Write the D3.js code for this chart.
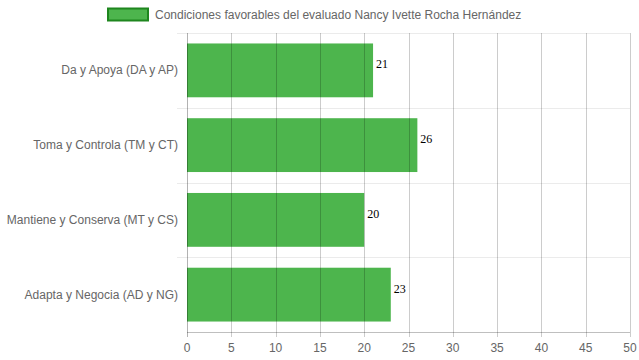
<!DOCTYPE html>
<html><head><meta charset="utf-8">
<script src="https://cdn.jsdelivr.net/npm/d3@7"></script>
<style>body{margin:0;background:#fff}svg{display:block}</style>
</head><body><svg id="c" width="639" height="360"></svg>
<script>
const categories = ["Da y Apoya (DA y AP)", "Toma y Controla (TM y CT)", "Mantiene y Conserva (MT y CS)", "Adapta y Negocia (AD y NG)"];
const values = [21, 26, 20, 23];
const xTicks = [0,5,10,15,20,25,30,35,40,45,50];
const seriesName = "Condiciones favorables del evaluado Nancy Ivette Rocha Hernández";

(function(){
const svg = d3.select("#c");
const pLeft = 187, pRight = 630, pTop = 33, pBottom = 332;
const x = d3.scaleLinear().domain([0,50]).range([pLeft,pRight]);
const y = d3.scaleBand().domain(categories).range([pTop,pBottom]);
const font = "Liberation Sans, Arial, Helvetica, sans-serif";
const barColor = "#4db54d";

// horizontal grid lines (category boundaries)
const bounds = categories.map(c => y(c));
svg.append("g").selectAll("line").data(bounds).join("line")
  .attr("x1", pLeft-10).attr("x2", pRight).attr("y1", d=>Math.round(d)+0.5).attr("y2", d=>Math.round(d)+0.5)
  .attr("stroke", "#ebebeb");

// bars
const bh = y.bandwidth()*0.72;
svg.append("g").selectAll("rect").data(values).join("rect")
  .attr("x", pLeft).attr("y", (d,i)=>y(categories[i]) + (y.bandwidth()-bh)/2)
  .attr("width", d=>x(d)-pLeft).attr("height", bh).attr("fill", barColor);

// vertical grid lines (drawn over bars)
svg.append("g").selectAll("line").data(xTicks).join("line")
  .attr("x1", d=>Math.round(x(d))+0.5).attr("x2", d=>Math.round(x(d))+0.5)
  .attr("y1", pTop).attr("y2", pBottom+5)
  .attr("stroke", d=> d===0 ? "rgba(0,0,0,0.3)" : "rgba(0,0,0,0.2)");

// x axis line
svg.append("line").attr("x1", pLeft).attr("x2", pRight).attr("y1", pBottom+0.5).attr("y2", pBottom+0.5)
  .attr("stroke", "rgba(0,0,0,0.25)");

// x tick labels
svg.append("g").selectAll("text").data(xTicks).join("text")
  .attr("x", d=>x(d)).attr("y", 352).attr("text-anchor","middle")
  .attr("font-family", font).attr("font-size", 12).attr("fill", "#666").text(d=>d);

// y labels
svg.append("g").selectAll("text").data(categories).join("text")
  .attr("x", 178).attr("y", d=>y(d)+y.bandwidth()/2+4).attr("text-anchor","end")
  .attr("font-family", font).attr("font-size", 12).attr("fill", "#666").text(d=>d);

// value labels
svg.append("g").selectAll("text").data(values).join("text")
  .attr("x", d=>x(d)+3).attr("y", (d,i)=>y(categories[i]) + (y.bandwidth()-bh)/2 + 25)
  .attr("font-family", "Liberation Serif, Times New Roman, serif").attr("font-size", 12)
  .attr("fill", "#000").text(d=>d);

// legend
svg.append("rect").attr("x", 108).attr("y", 8.5).attr("width", 40).attr("height", 12)
  .attr("fill", barColor).attr("stroke", "#1e861e").attr("stroke-width", 2);
svg.append("text").attr("x", 155).attr("y", 18.5).attr("font-family", font).attr("font-size", 12)
  .attr("fill", "#666").text(seriesName);
})();
</script></body></html>
